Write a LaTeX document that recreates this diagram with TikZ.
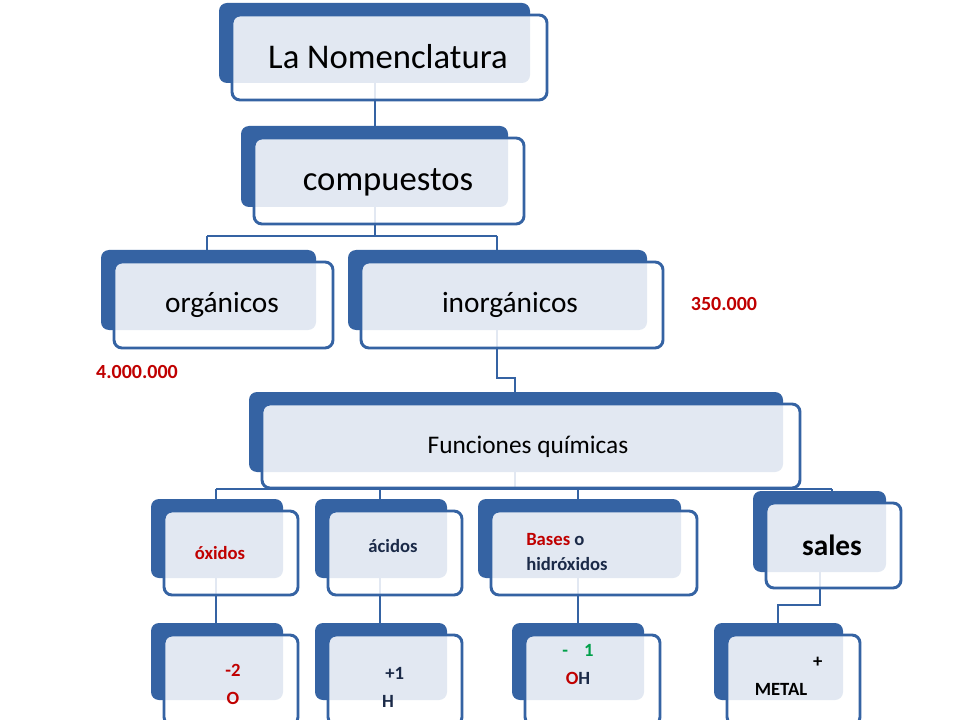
\documentclass[tikz,border=0pt]{standalone}
\usepackage{fontspec}
\setmainfont{Carlito}
\definecolor{dblue}{HTML}{3563A3}
\definecolor{navy}{HTML}{1B2A48}
\definecolor{dred}{HTML}{C00000}
\definecolor{dgreen}{HTML}{00A04A}
\tikzset{
 backbox/.style={fill=dblue,rounded corners=6pt,inner sep=0pt},
 frontbox/.style={fill=white,fill opacity=0.86,draw=dblue,line width=2.2pt,rounded corners=6pt,inner sep=0pt},
 conn/.style={draw=dblue,line width=2.2pt},
 lbl/.style={inner sep=0pt,text=black,align=center},
 num/.style={inner sep=0pt,text=dred,font=\bfseries\fontsize{15}{18}\selectfont}
}
\newcommand{\mybx}[7]{% name x1 y1 x2 y2 fx2 fy2
 \pgfmathsetmacro{\cxa}{(#2+#4)/2}\pgfmathsetmacro{\cya}{(#3+#5)/2}
 \pgfmathsetmacro{\wa}{(#4-#2)*0.75}\pgfmathsetmacro{\ha}{(#5-#3)*0.75}
 \node[backbox,minimum width=\wa pt,minimum height=\ha pt] (#1b) at (\cxa,\cya) {};
 \pgfmathsetmacro{\cxb}{(#2+13+#6)/2}\pgfmathsetmacro{\cyb}{(#3+12+#7)/2}
 \pgfmathsetmacro{\wb}{(#6-#2-13)*0.75}\pgfmathsetmacro{\hb}{(#7-#3-12)*0.75}
 \node[frontbox,minimum width=\wb pt,minimum height=\hb pt] (#1f) at (\cxb,\cyb) {};
}
\begin{document}
\begin{tikzpicture}[x=0.75pt,y=-0.75pt]
\useasboundingbox (0,0) rectangle (960,720);
\fill[white] (0,0) rectangle (960,720);
% connectors
\coordinate (j1) at (375,236);
\coordinate (j1a) at (207,236);
\coordinate (j1b) at (497,236);
\coordinate (j2) at (497,378);
\coordinate (j2a) at (515,378);
\coordinate (j3) at (515,489);
\coordinate (j3a) at (216,489);
\coordinate (j3b) at (832,489);
\coordinate (j4) at (820,605);
\coordinate (j4a) at (778,605);
\coordinate (c1) at (375,83);\coordinate (c1e) at (375,126);
\coordinate (c3) at (216,578);\coordinate (c3e) at (216,623);
\coordinate (c4) at (380,578);\coordinate (c4e) at (380,623);
\coordinate (c5) at (578,578);\coordinate (c5e) at (578,623);
\coordinate (c6) at (820,572);\coordinate (c6e) at (778,623);
\coordinate (t1) at (380,489);\coordinate (t1e) at (380,499);
\coordinate (t2) at (578,489);\coordinate (t2e) at (578,499);
\coordinate (t3e) at (216,499);\coordinate (t4e) at (832,491);
\draw[conn] (c1) -- (c1e);
\draw[conn] (375,207) -- (j1);
\draw[conn] (j1a) -- (j1b);
\draw[conn] (j1a) -- (207,250);
\draw[conn] (j1b) -- (497,250);
\draw[conn] (497,330) -- (j2) -- (j2a) -- (515,392);
\draw[conn] (515,472) -- (j3);
\draw[conn] (j3a) -- (j3b);
\draw[conn] (j3a) -- (t3e);
\draw[conn] (t1) -- (t1e);
\draw[conn] (t2) -- (t2e);
\draw[conn] (j3b) -- (t4e);
\draw[conn] (c3) -- (c3e);
\draw[conn] (c4) -- (c4e);
\draw[conn] (c5) -- (c5e);
\draw[conn] (c6) -- (j4) -- (j4a) -- (c6e);
% boxes
\mybx{a}{219}{3}{530}{83}{547}{100}
\mybx{b}{241}{126}{508}{207}{524}{224}
\mybx{c}{101}{250}{316}{330}{333}{348}
\mybx{d}{348}{250}{647}{330}{663}{348}
\mybx{e}{249}{392}{783}{472}{800}{488}
\mybx{f}{151}{499}{283}{578}{298}{595}
\mybx{g}{315}{499}{447}{578}{462}{595}
\mybx{h}{478}{499}{681}{578}{697}{595}
\mybx{i}{753}{491}{886}{572}{901}{588}
\mybx{k}{151}{623}{283}{700}{298}{725}
\mybx{l}{315}{623}{447}{700}{462}{725}
\mybx{m}{512}{623}{644}{700}{660}{725}
\mybx{n}{714}{623}{843}{700}{860}{725}
% texts
\node[lbl,font=\fontsize{26}{30}\selectfont] (ta) at (388,57) {La Nomenclatura};
\node[lbl,font=\fontsize{26}{30}\selectfont] (tb) at (388,182) {compuestos};
\node[lbl,font=\fontsize{22}{26}\selectfont] (tc) at (222,305) {orgánicos};
\node[lbl,font=\fontsize{22}{26}\selectfont] (td) at (510,305) {inorgánicos};
\node[lbl,font=\fontsize{19}{22}\selectfont] (te) at (528,447) {Funciones químicas};
\node[lbl,text=dred,font=\bfseries\fontsize{14}{17}\selectfont] (tf) at (220,553) {óxidos};
\node[lbl,text=navy,font=\bfseries\fontsize{14}{17}\selectfont] (tg) at (393,546) {ácidos};
\node[lbl,anchor=west,align=left,text=navy,font=\bfseries\fontsize{14}{17}\selectfont] (th) at (526,552) {{\color{dred}Bases} o\\[2pt]hidróxidos};
\node[lbl,font=\bfseries\fontsize{22}{26}\selectfont] (ti) at (832,545) {sales};
\node[lbl,text=dred,font=\bfseries\fontsize{14}{17}\selectfont] (tk) at (233,684) {-2\\[4pt]O};
\node[lbl,text=navy,font=\bfseries\fontsize{14}{17}\selectfont] (tl) at (388,687) {\hspace*{10pt}+1\\[4pt]H};
\node[lbl,text=navy,font=\bfseries\fontsize{14}{17}\selectfont] (tm) at (578,664) {{\color{dgreen}-\hspace{12pt}1}\\[4pt]{\color{dred}O}H};
\node[lbl,text=black,font=\bfseries\fontsize{14}{17}\selectfont] (tn) at (781,676) {\hspace*{55pt}+\\[4pt]METAL};
\node[num] (n1) at (724,304) {350.000};
\node[num] (n2) at (137,372) {4.000.000};
\end{tikzpicture}
\end{document}
